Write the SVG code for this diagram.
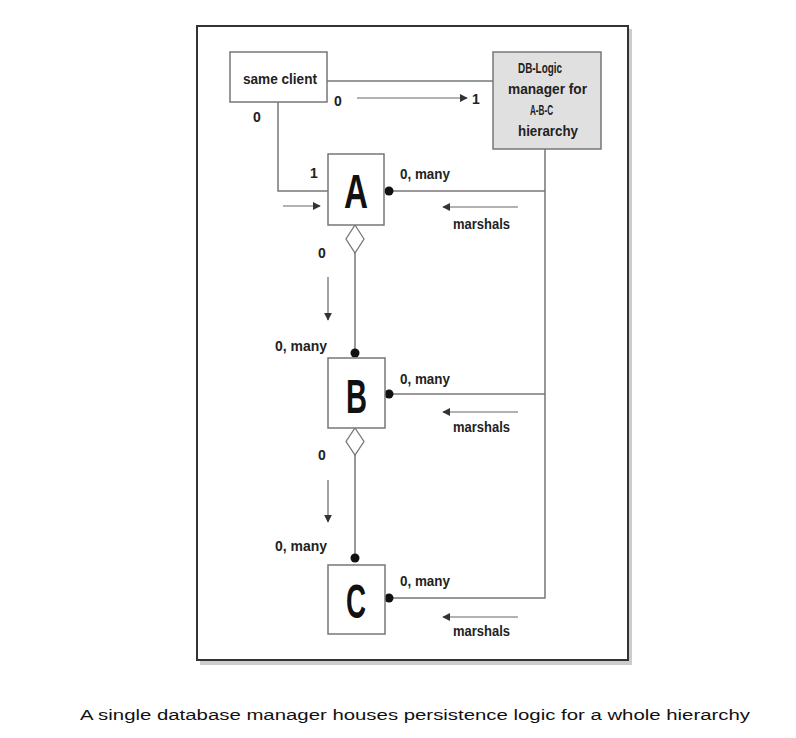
<svg xmlns="http://www.w3.org/2000/svg" width="796" height="738" viewBox="0 0 796 738">
<style>
.t{font-family:"Liberation Sans",Arial,sans-serif;font-weight:bold;fill:#222;font-size:14px}
.big{font-family:"Liberation Sans",Arial,sans-serif;font-weight:bold;fill:#111;font-size:48px}
.cap{font-family:"Liberation Sans",Arial,sans-serif;fill:#111;font-size:14px}
.box{fill:#fff;stroke:#777;stroke-width:1.5}
.ln{fill:none;stroke:#777;stroke-width:1.5}
.ar{fill:none;stroke:#666;stroke-width:1.2}
</style>
<defs>
<marker id="ah" viewBox="0 0 10 10" refX="9" refY="5" markerWidth="8" markerHeight="8" markerUnits="userSpaceOnUse" orient="auto">
<path d="M0,0 L10,5 L0,10 z" fill="#333"/>
</marker>
</defs>
<rect width="796" height="738" fill="#fff"/>
<rect x="200" y="29" width="432" height="636" fill="#ccc"/>
<rect x="197" y="26" width="431" height="634" fill="#fff" stroke="#333" stroke-width="2"/>

<g id="connectors">
<line class="ln" x1="327" y1="81" x2="493" y2="81"/>
<polyline class="ln" points="278,102 278,191 328,191"/>
<polyline class="ln" points="545,149 545,598 393,598"/>
<line class="ln" x1="393" y1="191" x2="545" y2="191"/>
<line class="ln" x1="393" y1="394" x2="545" y2="394"/>
<line class="ln" x1="355" y1="253" x2="355" y2="353"/>
<line class="ln" x1="355" y1="455" x2="355" y2="558"/>
<path d="M355,225 L364,239 L355,253 L346,239 z" fill="#fff" stroke="#777" stroke-width="1.3"/>
<path d="M355,428 L364,441.5 L355,455 L346,441.5 z" fill="#fff" stroke="#777" stroke-width="1.3"/>
<circle cx="389" cy="191" r="4.5" fill="#111"/>
<circle cx="389" cy="394" r="4.5" fill="#111"/>
<circle cx="389" cy="598" r="4.5" fill="#111"/>
<circle cx="355" cy="353" r="4.5" fill="#111"/>
<circle cx="355" cy="558" r="4.5" fill="#111"/>
<line class="ar" x1="357" y1="98" x2="467" y2="98" marker-end="url(#ah)"/>
<line class="ar" x1="283" y1="206" x2="320" y2="206" marker-end="url(#ah)"/>
<line class="ar" x1="518" y1="207" x2="443" y2="207" marker-end="url(#ah)"/>
<line class="ar" x1="518" y1="412" x2="443" y2="412" marker-end="url(#ah)"/>
<line class="ar" x1="518" y1="617" x2="443" y2="617" marker-end="url(#ah)"/>
<line class="ar" x1="328" y1="277" x2="328" y2="320" marker-end="url(#ah)"/>
<line class="ar" x1="328" y1="480" x2="328" y2="522" marker-end="url(#ah)"/>
<text class="t" x="334" y="106">0</text>
<text class="t" x="472" y="104">1</text>
<text class="t" x="253" y="122">0</text>
<text class="t" x="310" y="178">1</text>
<text class="t" x="318" y="258">0</text>
<text class="t" x="318" y="460">0</text>
<text class="t" x="400" y="179" textLength="50" lengthAdjust="spacingAndGlyphs">0, many</text>
<text class="t" x="400" y="384" textLength="50" lengthAdjust="spacingAndGlyphs">0, many</text>
<text class="t" x="400" y="586" textLength="50" lengthAdjust="spacingAndGlyphs">0, many</text>
<text class="t" x="275" y="351" textLength="52" lengthAdjust="spacingAndGlyphs">0, many</text>
<text class="t" x="275" y="551" textLength="52" lengthAdjust="spacingAndGlyphs">0, many</text>
<text class="t" x="453" y="229" textLength="57" lengthAdjust="spacingAndGlyphs">marshals</text>
<text class="t" x="453" y="432" textLength="57" lengthAdjust="spacingAndGlyphs">marshals</text>
<text class="t" x="453" y="636" textLength="57" lengthAdjust="spacingAndGlyphs">marshals</text>
</g>

<g id="same-client">
<rect class="box" x="230" y="52" width="97" height="50"/>
<text class="t" x="243" y="84" textLength="74" lengthAdjust="spacingAndGlyphs">same client</text>
</g>
<g id="db-logic">
<rect x="493" y="52" width="108" height="97" fill="#e0e0e0" stroke="#777" stroke-width="1.5"/>
<text class="t" x="518" y="73" textLength="44" lengthAdjust="spacingAndGlyphs">DB-Logic</text>
<text class="t" x="508" y="94" textLength="79" lengthAdjust="spacingAndGlyphs">manager for</text>
<text class="t" x="530" y="115" textLength="23" lengthAdjust="spacingAndGlyphs">A-B-C</text>
<text class="t" x="518" y="136" textLength="60" lengthAdjust="spacingAndGlyphs">hierarchy</text>
</g>
<g id="A">
<rect class="box" x="328" y="154" width="56" height="71"/>
<text class="big" x="344" y="208" textLength="24" lengthAdjust="spacingAndGlyphs">A</text>
</g>
<g id="B">
<rect class="box" x="328" y="358" width="57" height="70"/>
<text class="big" x="346" y="413" textLength="21" lengthAdjust="spacingAndGlyphs">B</text>
</g>
<g id="C">
<rect class="box" x="328" y="565" width="57" height="69"/>
<text class="big" x="346" y="618" textLength="20" lengthAdjust="spacingAndGlyphs">C</text>
</g>
<text class="cap" x="80" y="720" textLength="670" lengthAdjust="spacingAndGlyphs">A single database manager houses persistence logic for a whole hierarchy</text>
</svg>
